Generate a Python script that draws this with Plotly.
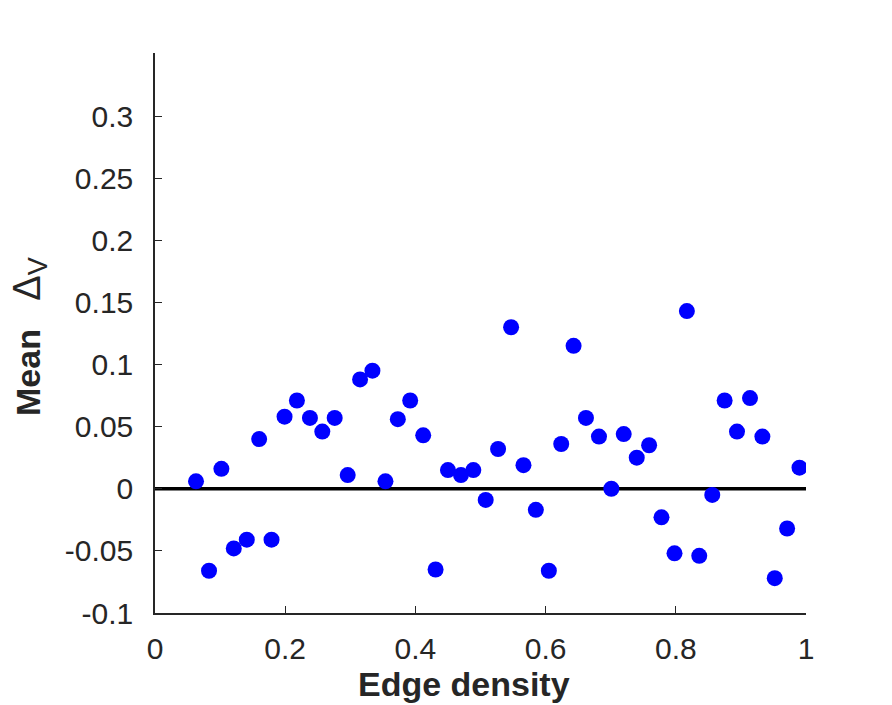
import plotly.graph_objects as go

edge_density = [0.063, 0.083, 0.102, 0.121, 0.141, 0.160, 0.179, 0.199, 0.218, 0.238,
                0.257, 0.276, 0.296, 0.315, 0.334, 0.354, 0.373, 0.392, 0.412, 0.431,
                0.450, 0.470, 0.489, 0.508, 0.527, 0.547, 0.566, 0.585, 0.605, 0.624,
                0.643, 0.662, 0.682, 0.701, 0.720, 0.740, 0.759, 0.778, 0.798, 0.817,
                0.836, 0.856, 0.875, 0.894, 0.914, 0.933, 0.952, 0.971, 0.990]
mean_delta_v = [0.006, -0.066, 0.016, -0.048, -0.041, 0.040, -0.041, 0.058, 0.071, 0.057,
                0.046, 0.057, 0.011, 0.088, 0.095, 0.006, 0.056, 0.071, 0.043, -0.065,
                0.015, 0.011, 0.015, -0.009, 0.032, 0.130, 0.019, -0.017, -0.066, 0.036,
                0.115, 0.057, 0.042, 0.000, 0.044, 0.025, 0.035, -0.023, -0.052, 0.143,
                -0.054, -0.005, 0.071, 0.046, 0.073, 0.042, -0.072, -0.032, 0.017]

x_ticks = [0, 0.2, 0.4, 0.6, 0.8, 1]
x_tick_labels = ["0", "0.2", "0.4", "0.6", "0.8", "1"]
y_ticks = [-0.1, -0.05, 0, 0.05, 0.1, 0.15, 0.2, 0.25, 0.3]
y_tick_labels = ["-0.1", "-0.05", "0", "0.05", "0.1", "0.15", "0.2", "0.25", "0.3"]
zero_line_x = [0, 1]
zero_line_y = [0, 0]

FONT = "Liberation Sans, Arial, Helvetica, sans-serif"
TXT = "#262626"

fig = go.Figure()
fig.add_trace(go.Scatter(x=zero_line_x, y=zero_line_y, mode="lines",
                         line=dict(color="black", width=3.5), hoverinfo="skip",
                         showlegend=False))
fig.add_trace(go.Scatter(x=edge_density, y=mean_delta_v, mode="markers",
                         marker=dict(color="#0000FF", size=16, line=dict(width=0)),
                         showlegend=False))

ytitle = ("<b>Mean</b>\u00a0\u00a0\u00a0"
          "<span style='font-size:38px'>\u0394</span>"
          "<sub><span style='font-size:27px'>V</span></sub>")

fig.update_layout(
    width=892, height=705,
    margin=dict(l=155, r=86, t=53, b=92, pad=0),
    paper_bgcolor="white", plot_bgcolor="white",
    font=dict(family=FONT, size=30, color=TXT),
    xaxis=dict(range=[0, 1], tickvals=x_ticks, ticktext=x_tick_labels,
               showgrid=False, zeroline=False, showline=True, linecolor=TXT,
               linewidth=1.5, ticks="inside", ticklen=7, tickcolor=TXT, tickwidth=1,
               tickfont=dict(size=30, color=TXT, family=FONT), ticklabelstandoff=8),
    yaxis=dict(range=[-0.1, 0.3507], tickvals=y_ticks, ticktext=y_tick_labels,
               showgrid=False, zeroline=False, showline=True, linecolor=TXT,
               linewidth=1.5, ticks="inside", ticklen=7, tickcolor=TXT, tickwidth=1,
               tickfont=dict(size=30, color=TXT, family=FONT), ticklabelstandoff=14),
    annotations=[
        dict(text="<b>Edge density</b>", xref="paper", yref="paper",
             x=(464 - 155) / 651, y=-(684 - 613) / 560, xanchor="center", yanchor="middle",
             showarrow=False, font=dict(size=34, color=TXT, family=FONT)),
        dict(text=ytitle, xref="paper", yref="paper",
             x=-(155 - 29) / 651, y=(613 - 337) / 560, xanchor="center", yanchor="middle",
             textangle=-90, showarrow=False, font=dict(size=34, color=TXT, family=FONT)),
    ],
)

fig.write_html("out.html")
